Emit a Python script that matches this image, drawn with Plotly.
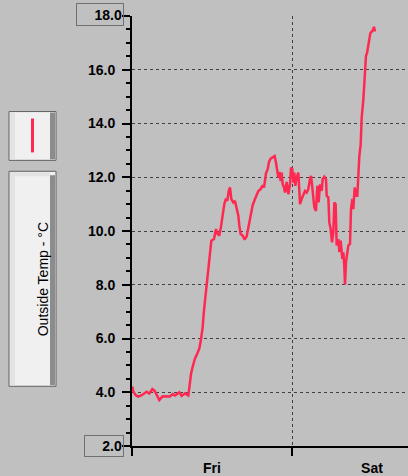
import plotly.graph_objects as go

# Hours since Friday 00:00
hours = [0.05, 0.2, 0.6, 0.95, 1.45, 2.2, 2.6, 3.05, 3.4, 3.7, 4.1, 4.6, 5.7, 6.1, 6.45,
         7.1, 7.45, 7.95, 8.45, 8.6, 8.85, 9.1, 9.45, 9.8, 10.1, 10.35, 10.6, 10.8, 11.1,
         11.3, 11.5, 11.65, 11.75, 11.9, 12.3, 12.6, 12.85, 13.1, 13.35, 13.6, 13.85, 14.1,
         14.3, 14.5, 14.7, 14.9, 15.2, 15.45, 15.7, 15.95, 16.1, 16.3, 16.6, 16.9, 17.2,
         17.5, 17.8, 18.1, 18.45, 18.7, 18.95, 19.3, 19.6, 19.8, 19.95, 20.1, 20.35, 20.55,
         20.8, 21.1, 21.4, 21.6, 21.8, 21.95, 22.1, 22.3, 22.45, 22.6, 22.8, 22.95, 23.2,
         23.45, 23.7, 23.85, 24.05, 24.2, 24.35, 24.5, 24.7, 24.95, 25.05, 25.2, 25.45,
         25.7, 25.95, 26.2, 26.45, 26.7, 26.85, 27.0, 27.2, 27.35, 27.6, 27.8, 28.0, 28.2,
         28.45, 28.6, 28.85, 29.1, 29.2, 29.45, 29.6, 29.8, 30.0, 30.2, 30.35, 30.55, 30.7,
         30.95, 31.1, 31.3, 31.55, 31.7, 31.85, 31.95, 32.1, 32.2, 32.45, 32.7, 32.85,
         33.05, 33.2, 33.4, 33.6, 33.8, 33.95, 34.1, 34.3, 34.45, 34.7, 34.85, 34.95, 35.1,
         35.25, 35.4, 35.55, 35.75, 35.95, 36.15, 36.3, 36.45]
temps = [4.21, 4.02, 3.88, 3.84, 3.89, 4.02, 3.95, 4.12, 4.05, 3.88, 3.71, 3.85, 3.84, 3.93, 3.88,
         4.0, 3.86, 3.96, 3.88, 4.17, 4.68, 4.95, 5.26, 5.44, 5.63, 5.96, 6.43, 7.05, 7.73,
         8.2, 8.59, 9.0, 9.33, 9.64, 9.70, 10.07, 9.89, 9.83, 10.17, 10.63, 11.0, 11.21,
         11.12, 11.49, 11.62, 11.19, 11.06, 11.12, 10.81, 10.57, 10.20, 9.89, 9.83, 9.68, 9.80,
         10.2, 10.63, 10.96, 11.19, 11.37, 11.49, 11.56, 11.70, 11.62, 11.86, 12.15, 12.30, 12.57,
         12.69, 12.73, 12.79, 12.54, 12.30, 11.99, 12.2, 11.86, 12.17, 11.74, 11.62, 11.43, 11.83,
         11.37, 11.74, 12.36, 12.30, 11.80, 12.17, 11.68, 11.99, 12.17, 11.74, 11.0, 11.19,
         11.37, 11.49, 11.43, 11.56, 11.93, 12.05, 11.74, 11.31, 10.88, 10.75, 11.68, 11.06, 11.74,
         11.49, 11.93, 12.02, 11.93, 11.31, 11.25, 10.32, 10.07, 9.58, 9.95, 11.06, 11.0, 9.46,
         9.70, 9.21, 9.64, 8.96, 9.21, 8.65, 8.0, 8.85, 9.09, 9.46, 9.52, 10.81,
         11.19, 10.81, 11.62, 11.31, 11.31, 12.05, 12.79, 13.22, 14.21, 14.89, 15.69, 16.19, 16.52,
         16.62, 16.86, 17.17, 17.36, 17.42, 17.48, 17.60, 17.42]

y_ticks = [2, 4, 6, 8, 10, 12, 14, 16, 18]
y_labels = ["", "4.0", "6.0", "8.0", "10.0", "12.0", "14.0", "16.0", ""]
day_ticks = [12, 36]
day_labels = ["Fri", "Sat"]
day_bounds = [0, 24]
series_name = "Outside Temp - °C"

RED = "#ff2850"
BG = "#c0c0c0"
W, H = 408, 476
L, T, R, B = 132, 16, 0, 28
PW, PH = W - L - R, H - T - B


def px(x):
    return (x - L) / PW


def py(y):
    return (T + PH - y) / PH


fig = go.Figure()
fig.add_trace(go.Scatter(x=hours, y=temps, mode="lines", line=dict(color=RED, width=2.5),
                         showlegend=False, hoverinfo="skip"))
fig.add_trace(go.Scatter(x=[None], y=[None], xaxis="x2", showlegend=False, hoverinfo="skip"))

bold = dict(family="Liberation Sans", size=14, color="black", weight="bold")

shapes = []


def rect(x0, y0, x1, y1, fill, line=None):
    shapes.append(dict(type="rect", xref="paper", yref="paper", x0=px(x0), x1=px(x1),
                       y0=py(y1), y1=py(y0), fillcolor=fill,
                       line=dict(width=1 if line else 0, color=line or fill), layer="above"))


# legend swatch box
rect(9, 112, 56, 161, "#f0f0f0", "#606060")
rect(10, 113, 15, 160, "#e3e3e3")
rect(50, 113, 55, 160, "#8c8c8c")
shapes.append(dict(type="line", xref="paper", yref="paper", x0=px(32.5), x1=px(32.5),
                   y0=py(153), y1=py(119), line=dict(color=RED, width=3), layer="above"))
# legend label box
rect(9, 172, 56, 388, "#f0f0f0", "#606060")
rect(10, 173, 50, 177, "#e3e3e3")
rect(10, 173, 15, 387, "#e3e3e3")
rect(50, 176, 55, 387, "#8c8c8c")

annotations = [
    dict(text=series_name, textangle=-90, xref="paper", yref="paper", x=px(32.5), y=py(281),
         showarrow=False, font=dict(family="Liberation Sans", size=14, color="black")),
    dict(text="18.0", xref="paper", yref="paper", x=px(123.5), y=py(14.5), xanchor="right",
         yanchor="middle", showarrow=False, width=44, height=19, align="right",
         bordercolor="#707070", borderwidth=1, borderpad=1, font=bold),
    dict(text="2.0", xref="paper", yref="paper", x=px(123.5), y=py(448), xanchor="right",
         yanchor="middle", showarrow=False, width=36, height=18, align="right",
         bordercolor="#707070", borderwidth=1, borderpad=1, font=bold),
]

fig.update_layout(
    width=W, height=H, margin=dict(l=L, r=R, t=T, b=B, pad=0),
    paper_bgcolor=BG, plot_bgcolor=BG,
    shapes=shapes, annotations=annotations,
    xaxis=dict(range=[0, 41.4], tickmode="array", tickvals=day_ticks, ticktext=day_labels,
               ticks="outside", ticklen=8, tickcolor="rgba(0,0,0,0)", showgrid=False,
               zeroline=False, showline=True, linecolor="black", linewidth=2, tickfont=bold),
    xaxis2=dict(overlaying="x", matches="x", side="bottom", tickmode="array", tickvals=day_bounds,
                ticks="outside", ticklen=9, tickwidth=2, tickcolor="black",
                showticklabels=False, showgrid=True, gridcolor="#404040", gridwidth=1,
                griddash="3px,3px", zeroline=False, showline=False),
    yaxis=dict(range=[2, 18], tickmode="array", tickvals=y_ticks, ticktext=y_labels,
               ticks="outside", ticklen=8, tickwidth=2, tickcolor="black",
               showline=True, linecolor="black", linewidth=2, zeroline=False,
               showgrid=True, gridcolor="#404040", gridwidth=1, griddash="3px,3px",
               tickfont=bold, ticklabelstandoff=4,
               minor=dict(dtick=0.5, tick0=0, ticks="outside", ticklen=4, tickwidth=2,
                          tickcolor="black", showgrid=False)),
)

fig.write_html("out.html", config={"displayModeBar": False},
               post_script="document.body.style.margin='0';document.body.style.background='#c0c0c0';")
